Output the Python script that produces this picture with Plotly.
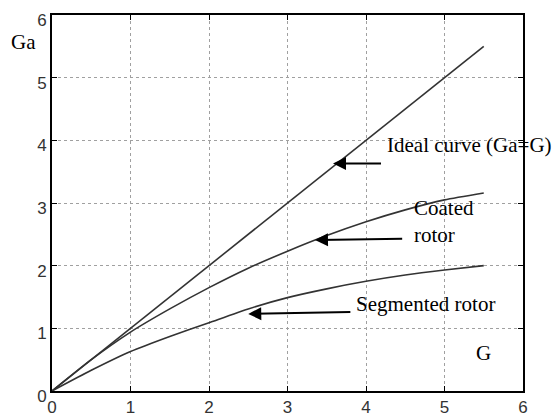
import plotly.graph_objects as go

# Data
g_ideal = [0, 5.5]
ga_ideal = [0, 5.5]

g_pts = [0, 0.5, 1, 1.5, 2, 2.5, 3, 3.5, 4, 4.5, 5, 5.5]
ga_coated = [0, 0.50, 0.94, 1.31, 1.65, 1.96, 2.23, 2.48, 2.70, 2.89, 3.05, 3.16]
ga_segmented = [0, 0.33, 0.63, 0.87, 1.09, 1.31, 1.49, 1.63, 1.75, 1.85, 1.93, 2.00]

tick_vals = [0, 1, 2, 3, 4, 5, 6]
tick_text = ["0", "1", "2", "3", "4", "5", "6"]

line_style = dict(color="#333333", width=1.6, shape="spline", smoothing=0.6)

fig = go.Figure()
fig.add_trace(go.Scatter(x=g_ideal, y=ga_ideal, mode="lines",
                         line=dict(color="#333333", width=1.6), name="Ideal curve (Ga=G)"))
fig.add_trace(go.Scatter(x=g_pts, y=ga_coated, mode="lines", line=line_style,
                         name="Coated rotor"))
fig.add_trace(go.Scatter(x=g_pts, y=ga_segmented, mode="lines", line=line_style,
                         name="Segmented rotor"))

serif = dict(family="Liberation Serif, Times New Roman, serif", size=21, color="black")

arrow = dict(xref="x", yref="y", axref="x", ayref="y", showarrow=True, arrowhead=2,
             arrowsize=1.3, arrowwidth=2, arrowcolor="black", text="")

annotations = [
    dict(x=3.58, y=3.63, ax=4.21, ay=3.63, **arrow),
    dict(x=3.35, y=2.41, ax=4.48, ay=2.43, **arrow),
    dict(x=2.50, y=1.23, ax=3.82, ay=1.26, **arrow),
    dict(x=4.24, y=3.93, xref="x", yref="y", text="Ideal curve (Ga=G)", showarrow=False,
         xanchor="left", yanchor="middle", font=serif),
    dict(x=4.58, y=2.7, xref="x", yref="y", text="Coated<br>rotor", showarrow=False,
         xanchor="left", yanchor="middle", align="left", font=serif),
    dict(x=3.85, y=1.39, xref="x", yref="y", text="Segmented rotor", showarrow=False,
         xanchor="left", yanchor="middle", font=serif),
    dict(x=5.5, y=0.61, xref="x", yref="y", text="G", showarrow=False,
         xanchor="center", yanchor="middle", font=serif),
    dict(x=-0.06, y=0.928, xref="paper", yref="paper", text="Ga", showarrow=False,
         xanchor="center", yanchor="middle", font=serif),
]

tick_font = dict(family="Liberation Sans Narrow, Arial Narrow, sans-serif", size=17, color="#333333")

axis_common = dict(
    tickmode="array", tickvals=tick_vals, ticktext=tick_text,
    showgrid=True, gridcolor="#a0a0a0", gridwidth=1, griddash="dot",
    showline=True, linecolor="black", linewidth=2, mirror="ticks",
    ticks="inside", ticklen=5, tickcolor="black",
    zeroline=False, tickfont=tick_font, automargin=False,
)

fig.update_layout(
    width=555, height=416,
    margin=dict(l=52, r=32, t=15, b=25, pad=0, autoexpand=False),
    paper_bgcolor="white", plot_bgcolor="white",
    showlegend=False,
    annotations=annotations,
    xaxis=dict(range=[0, 6], ticklabelstandoff=0, **axis_common),
    yaxis=dict(range=[0, 6], ticklabelstandoff=0, ticklabelshift=5, **axis_common),
)

fig.write_html("out.html")
